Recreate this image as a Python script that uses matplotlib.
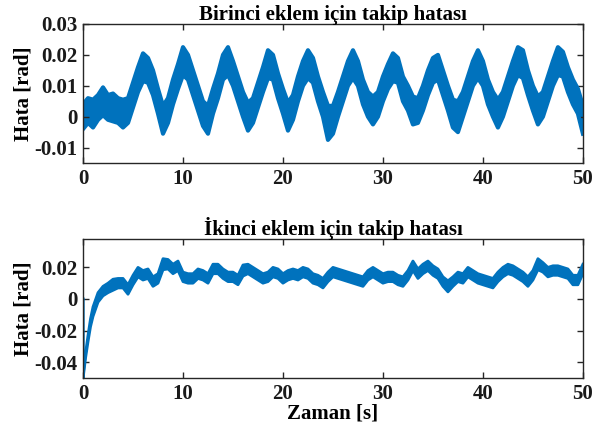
import numpy as np
import matplotlib
matplotlib.use("Agg")
import matplotlib.pyplot as plt

plt.rcParams['font.family'] = ['Liberation Serif', 'DejaVu Serif']
plt.rcParams['font.weight'] = 'bold'

t1 = np.arange(0, 50.5, 0.5)
err1 = [0.000, 0.002, 0.001, 0.003, 0.005, 0.003, 0.003, 0.002, 0.001, 0.002,
        0.007, 0.012, 0.016, 0.015, 0.011, 0.005, -0.001, 0.002, 0.008, 0.013,
        0.018, 0.016, 0.011, 0.006, 0.001, -0.001, 0.005, 0.010, 0.016, 0.018,
        0.014, 0.009, 0.004, 0.000, 0.002, 0.007, 0.012, 0.017, 0.016, 0.010,
        0.005, 0.000, 0.003, 0.009, 0.014, 0.017, 0.015, 0.009, 0.004, -0.002,
        -0.001, 0.004, 0.009, 0.014, 0.017, 0.014, 0.008, 0.004, 0.002, 0.004,
        0.009, 0.013, 0.016, 0.015, 0.009, 0.006, 0.002, 0.002, 0.006, 0.011,
        0.015, 0.016, 0.011, 0.006, 0.001, 0.000, 0.004, 0.009, 0.014, 0.017,
        0.014, 0.008, 0.004, 0.001, 0.004, 0.009, 0.014, 0.018, 0.017, 0.011,
        0.006, 0.002, 0.004, 0.009, 0.014, 0.018, 0.017, 0.012, 0.008, 0.005,
        -0.001]
spread1 = [0.004, 0.004, 0.0045, 0.004, 0.0045, 0.004, 0.0045, 0.004, 0.0045, 0.004,
           0.004, 0.004, 0.0045, 0.004, 0.004, 0.004, 0.0045, 0.004, 0.004, 0.004,
           0.0045, 0.004, 0.004, 0.004, 0.004, 0.0045, 0.004, 0.004, 0.004, 0.0045,
           0.004, 0.004, 0.004, 0.0045, 0.004, 0.004, 0.004, 0.0045, 0.004, 0.004,
           0.004, 0.0045, 0.004, 0.004, 0.004, 0.0045, 0.004, 0.004, 0.004, 0.0055,
           0.0045, 0.004, 0.004, 0.004, 0.0045, 0.004, 0.004, 0.004, 0.0045, 0.004,
           0.004, 0.004, 0.0045, 0.004, 0.004, 0.004, 0.0045, 0.004, 0.004, 0.004,
           0.004, 0.004, 0.004, 0.004, 0.0045, 0.005, 0.004, 0.004, 0.004, 0.0045,
           0.004, 0.004, 0.004, 0.0045, 0.004, 0.004, 0.004, 0.0045, 0.0045, 0.004,
           0.004, 0.0045, 0.004, 0.004, 0.004, 0.0045, 0.004, 0.004, 0.004, 0.004,
           0.0045]

# --- second joint
t2 = [0.0, 0.01, 0.25, 0.5, 0.75, 1.0, 1.5, 2.0, 2.5, 3.0, 3.5, 4.0, 4.5, 5.0,
      5.5, 6.0, 6.5, 7.0, 7.5, 8.0, 8.5, 9.0, 9.5, 10.0, 10.5, 11.0, 11.5, 12.0,
      12.5, 13.0, 13.5, 14.0, 14.5, 15.0, 15.5, 16.0, 16.5, 17.0, 17.5, 18.0,
      18.5, 19.0, 19.5, 20.0, 20.5, 21.0, 21.5, 22.0, 22.5, 23.0, 23.5, 24.0,
      24.5, 25.0, 25.5, 26.0, 26.5, 27.0, 27.5, 28.0, 28.5, 29.0, 29.5, 30.0,
      30.5, 31.0, 31.5, 32.0, 32.5, 33.0, 33.5, 34.0, 34.5, 35.0, 35.5, 36.0,
      36.5, 37.0, 37.5, 38.0, 38.5, 39.0, 39.5, 40.0, 40.5, 41.0, 41.5, 42.0,
      42.5, 43.0, 43.5, 44.0, 44.5, 45.0, 45.5, 46.0, 46.5, 47.0, 47.5, 48.0,
      48.5, 49.0, 49.5, 50.0]
err2 = [0.000, -0.049, -0.036, -0.025, -0.015, -0.008, 0.001, 0.005, 0.007, 0.009,
        0.010, 0.010, 0.006, 0.012, 0.017, 0.015, 0.016, 0.011, 0.013, 0.022,
        0.022, 0.019, 0.021, 0.014, 0.013, 0.013, 0.016, 0.015, 0.013, 0.019,
        0.019, 0.016, 0.014, 0.014, 0.012, 0.018, 0.019, 0.017, 0.015, 0.013,
        0.014, 0.017, 0.016, 0.013, 0.015, 0.016, 0.015, 0.017, 0.016, 0.013,
        0.012, 0.010, 0.014, 0.017, 0.016, 0.015, 0.014, 0.013, 0.012, 0.011,
        0.015, 0.017, 0.015, 0.013, 0.014, 0.014, 0.012, 0.011, 0.015, 0.021,
        0.016, 0.019, 0.021, 0.018, 0.016, 0.011, 0.008, 0.011, 0.014, 0.013,
        0.017, 0.015, 0.013, 0.012, 0.011, 0.010, 0.014, 0.017, 0.019, 0.018,
        0.016, 0.014, 0.011, 0.015, 0.022, 0.020, 0.017, 0.018, 0.018, 0.017,
        0.016, 0.012, 0.012, 0.019]
spread2 = [0.000, 0.001, 0.0015, 0.002, 0.0025, 0.003, 0.003, 0.003, 0.003, 0.0035,
           0.003, 0.003, 0.003, 0.003, 0.003, 0.003, 0.003, 0.003, 0.003, 0.0035,
           0.003, 0.003, 0.003, 0.003, 0.003, 0.003, 0.003, 0.003, 0.003, 0.003,
           0.003, 0.003, 0.003, 0.003, 0.003, 0.0035, 0.003, 0.003, 0.003, 0.003,
           0.003, 0.003, 0.003, 0.003, 0.003, 0.003, 0.003, 0.003, 0.003, 0.003,
           0.003, 0.003, 0.003, 0.003, 0.003, 0.003, 0.003, 0.003, 0.003, 0.003,
           0.003, 0.003, 0.003, 0.003, 0.003, 0.003, 0.003, 0.003, 0.003, 0.003,
           0.003, 0.003, 0.003, 0.003, 0.003, 0.003, 0.0035, 0.003, 0.003, 0.003,
           0.003, 0.003, 0.003, 0.003, 0.003, 0.003, 0.003, 0.003, 0.003, 0.003,
           0.003, 0.003, 0.003, 0.003, 0.0035, 0.003, 0.003, 0.003, 0.003, 0.003,
           0.003, 0.003, 0.003, 0.003]

blue = '#0072BD'
axcol = '#262626'

fig = plt.figure(figsize=(5.93, 4.36), dpi=100)
ax1 = fig.add_axes([0.140, 0.626, 0.843, 0.319])
ax2 = fig.add_axes([0.140, 0.133, 0.843, 0.319])


def band(ax, t, y, s, lw):
    y = np.array(y)
    s = np.array(s)
    ax.fill_between(t, y - s, y + s, color=blue, lw=0)
    ax.plot(t, y + s, color=blue, lw=lw, solid_joinstyle='round')
    ax.plot(t, y - s, color=blue, lw=lw, solid_joinstyle='round')


band(ax1, t1, err1, spread1, 3.0)
band(ax2, t2, err2, spread2, 2.0)

for ax in (ax1, ax2):
    ax.set_xlim(0, 50)
    ax.set_xticks([0, 10, 20, 30, 40, 50])
    ax.tick_params(direction='in', top=True, right=True, labelsize=15, pad=4,
                   colors=axcol, labelcolor='#1a1a1a', length=4, width=1)
    for sp in ax.spines.values():
        sp.set_color(axcol)
        sp.set_linewidth(1)
        sp.set_zorder(3)
    ax.set_ylabel('Hata [rad]', fontsize=15, fontweight='bold', labelpad=0.5)
    for lab in ax.get_xticklabels() + ax.get_yticklabels():
        lab.set_fontweight('bold')

ax1.set_ylim(-0.015, 0.03)
ax1.set_yticks([-0.01, 0, 0.01, 0.02, 0.03])
ax1.set_yticklabels(['-0.01', '0', '0.01', '0.02', '0.03'])
ax1.set_title('Birinci eklem için takip hatası', fontsize=15, fontweight='bold', pad=3)

ax2.set_ylim(-0.05, 0.038)
ax2.set_yticks([-0.04, -0.02, 0, 0.02])
ax2.set_yticklabels(['-0.04', '-0.02', '0', '0.02'])
ax2.set_title('İkinci eklem için takip hatası', fontsize=15, fontweight='bold', pad=3)
ax2.set_xlabel('Zaman [s]', fontsize=15, fontweight='bold', labelpad=0)

fig.savefig('out.png', dpi=100)
